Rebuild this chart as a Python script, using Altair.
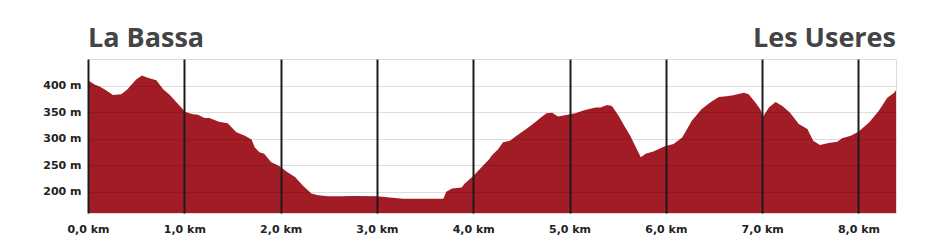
import altair as alt
import pandas as pd

km = [0.0, 0.068, 0.12, 0.17, 0.26, 0.345, 0.41, 0.50, 0.56, 0.62, 0.71, 0.78, 0.85, 0.92, 0.985,
      1.01, 1.09, 1.14, 1.21, 1.26, 1.36, 1.45, 1.54, 1.63, 1.70, 1.73, 1.78, 1.83, 1.90, 1.99,
      2.06, 2.15, 2.23, 2.32, 2.39, 2.49, 2.63, 2.76, 3.00, 3.27, 3.69, 3.72, 3.78, 3.88, 3.91,
      4.00, 4.17, 4.19, 4.26, 4.31, 4.38, 4.45, 4.54, 4.62, 4.69, 4.76, 4.82, 4.88, 4.95,
      5.06, 5.16, 5.27, 5.32, 5.39, 5.44, 5.51, 5.57, 5.63, 5.74, 5.79, 5.87, 5.99,
      6.08, 6.17, 6.27, 6.37, 6.46, 6.55, 6.63, 6.70, 6.81, 6.86, 6.93, 6.98,
      7.01, 7.07, 7.14, 7.21, 7.29, 7.38, 7.47, 7.53, 7.60, 7.69, 7.78, 7.83, 7.92,
      8.00, 8.11, 8.21, 8.30, 8.37, 8.39]
elevation = [410, 402, 398, 393, 382, 383.5, 393, 411.6, 419, 414.6, 410, 393, 382, 368, 355.5,
             350, 346, 345, 339, 338.7, 332, 329, 312, 305.6, 298, 284, 274.4, 271.5, 256, 248,
             238, 227.7, 212, 196.6, 193.5, 191.6, 191.6, 192, 191.6, 187, 187, 200, 206, 208, 215,
             229.5, 262, 268, 280.7, 293, 296, 305.6, 317, 327.5, 338, 348, 349, 341.7, 344,
             348, 354, 358.5, 358.5, 363.6, 361.7, 343, 324, 305.6, 265, 271.5, 275.7, 285.6,
             290, 302.4, 333.6, 355.5, 368, 378.5, 380, 381.7, 386.5, 383.5, 368, 355.5,
             341.7, 358.5, 369, 361.7, 349, 327.5, 318, 296, 288, 292, 294.4, 300.6, 305.6,
             313, 330.5, 352, 377, 386.5, 391]

x_ticks = [0, 1, 2, 3, 4, 5, 6, 7, 8]
y_ticks = [200, 250, 300, 350, 400]
places = ["La Bassa", "Les Useres"]
place_km = [km[0], km[-1]]

df = pd.DataFrame({"km": km, "elev": elevation})
df_start = pd.DataFrame({"km": [place_km[0]], "name": [places[0]]})
df_end = pd.DataFrame({"km": [place_km[1]], "name": [places[1]]})

x_scale = alt.Scale(domain=[0, km[-1]], nice=False, zero=False)
y_scale = alt.Scale(domain=[160, 450], nice=False, zero=False)

area = alt.Chart(df).mark_area(color="#a11c25", clip=True, interpolate="linear").encode(
    x=alt.X("km:Q", scale=x_scale, axis=alt.Axis(
        values=x_ticks, title=None, domain=False, ticks=False,
        grid=True, gridColor="#1c1c1c", gridWidth=2, zindex=1,
        labelExpr="replace(format(datum.value, '.1f'), '.', ',') + ' km'",
        labelFont="DejaVu Sans", labelFontWeight="bold", labelFontSize=11,
        labelColor="#222222", labelPadding=10, labelFlush=False)),
    y=alt.Y("elev:Q", scale=y_scale, axis=alt.Axis(
        values=y_ticks, title=None, domain=False, ticks=False,
        grid=True, gridColor="#000000", gridOpacity=0.13, gridWidth=1, zindex=1,
        labelExpr="datum.value + ' m'",
        labelFont="DejaVu Sans", labelFontWeight="bold", labelFontSize=11,
        labelColor="#222222", labelPadding=7)),
)

title_start = alt.Chart(df_start).mark_text(
    align="left", baseline="alphabetic", font="Open Sans", fontWeight="bold",
    fontSize=27, color="#444444"
).encode(x=alt.X("km:Q", scale=x_scale), y=alt.value(-12), text="name:N")

title_end = alt.Chart(df_end).mark_text(
    align="right", baseline="alphabetic", font="Open Sans", fontWeight="bold",
    fontSize=27, color="#444444"
).encode(x=alt.X("km:Q", scale=x_scale), y=alt.value(-12), text="name:N")

chart = alt.layer(area, title_start, title_end).properties(
    width=808, height=154,
    autosize=alt.AutoSizeParams(type="none"),
    padding={"left": 88, "top": 59, "right": 34, "bottom": 37},
).configure_view(stroke=None).configure(background="white")

chart.save("out.html", embed_options={"renderer": "svg", "actions": False})
